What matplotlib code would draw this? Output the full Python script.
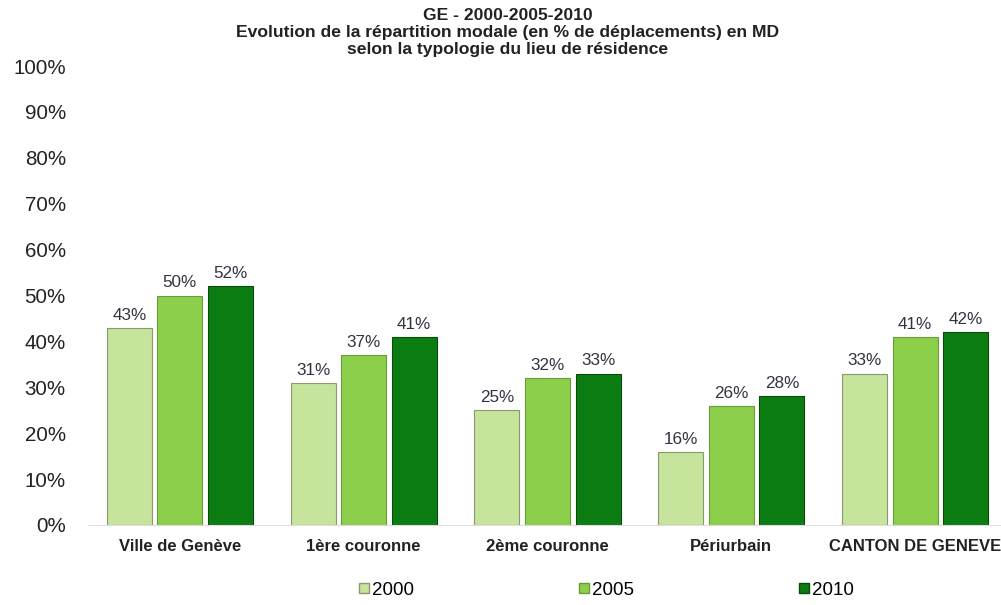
import matplotlib
matplotlib.use("Agg")
import matplotlib.pyplot as plt
import numpy as np

categories = ["Ville de Genève", "1ère couronne", "2ème couronne", "Périurbain", "CANTON DE GENEVE"]
years = ["2000", "2005", "2010"]
v2000 = [43, 31, 25, 16, 33]
v2005 = [50, 37, 32, 26, 41]
v2010 = [52, 41, 33, 28, 42]
yticks = [0, 10, 20, 30, 40, 50, 60, 70, 80, 90, 100]
title = ("GE - 2000-2005-2010\n"
         "Evolution de la répartition modale (en % de déplacements) en MD\n"
         "selon la typologie du lieu de résidence")

colors = ["#c6e49c", "#8ccf4a", "#0b7d12"]
edges = ["#8a9a70", "#6a9a3a", "#0a4a0a"]

plt.rcParams['font.family'] = ['Liberation Sans', 'DejaVu Sans']

fig = plt.figure(figsize=(10.01, 6.05), dpi=100)
ax = fig.add_axes([88/1001, (605-525)/605, 919/1001, 459/605])

x = np.arange(len(categories))
w = 0.245
step = 0.275
series = [v2000, v2005, v2010]
for i, vals in enumerate(series):
    bars = ax.bar(x + (i-1)*step, vals, width=w, color=colors[i],
                  edgecolor=edges[i], linewidth=0.8, label=years[i])
    for b, v in zip(bars, vals):
        ax.text(b.get_x() + b.get_width()/2, v + 1.1, f"{v}%",
                ha="center", va="bottom", fontsize=12.3, color="#333340")

ax.set_xlim(-0.5, len(categories) - 0.5)
ax.set_ylim(0, 100)
ax.set_yticks(yticks)
ax.set_yticklabels([f"{t}%" for t in yticks], fontsize=14.8, color="#222222")
ax.set_xticks(x)
ax.set_xticklabels(categories, fontsize=12, fontweight="bold", color="#222222")
ax.tick_params(axis="both", length=0)
ax.tick_params(axis="y", pad=16)
ax.tick_params(axis="x", pad=10)
for s in ["top", "right", "left"]:
    ax.spines[s].set_visible(False)
ax.spines["bottom"].set_color("#dddddd")

fig.text(0.507, 1 - 8/605, title, ha="center", va="top", fontsize=12.6,
         fontweight="bold", color="#222222", linespacing=1.18)

handles = [plt.Line2D([], [], marker="s", linestyle="", markersize=7,
                      markerfacecolor=colors[i], markeredgecolor=edges[i])
           for i in range(3)]
fig.legend(handles, years, loc="center", bbox_to_anchor=(0.604, 1 - 590/605),
           ncol=3, frameon=False, fontsize=13.5, columnspacing=8.6,
           handletextpad=0.0, handlelength=0.9)

fig.savefig("out.png", dpi=100)
